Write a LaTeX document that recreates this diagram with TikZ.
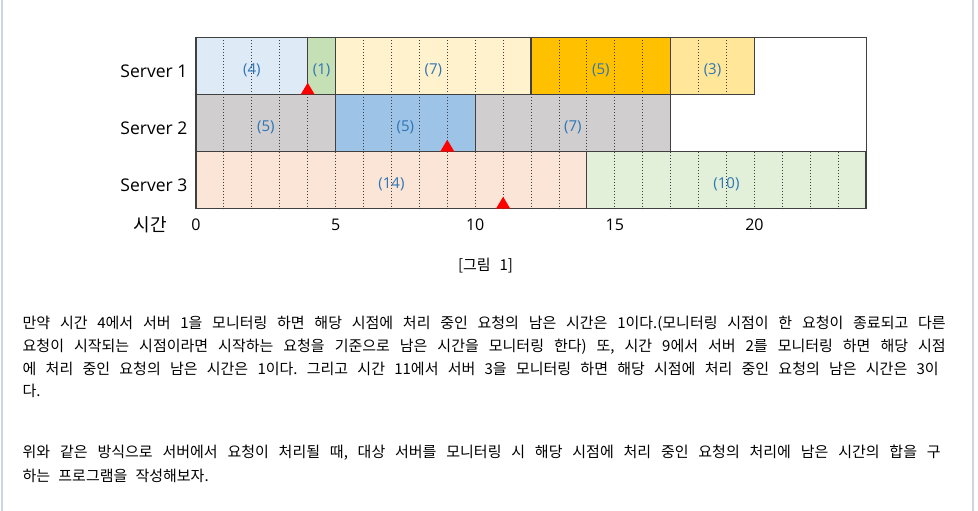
\documentclass[tikz,border=0pt]{standalone}
\usepackage{fontspec}
\setmainfont{Open Sans}
\newfontfamily\kr{Noto Sans CJK KR}
\frenchspacing
\definecolor{barcol}{HTML}{CBD5E6}
\definecolor{cA}{HTML}{DEEBF7}
\definecolor{cB}{HTML}{C5E0B4}
\definecolor{cC}{HTML}{FFF2CC}
\definecolor{cD}{HTML}{FFC000}
\definecolor{cE}{HTML}{FFE699}
\definecolor{cG}{HTML}{D0CECE}
\definecolor{cH}{HTML}{9DC3E6}
\definecolor{cI}{HTML}{FBE5D6}
\definecolor{cJ}{HTML}{E2F0D9}
\definecolor{edgecol}{HTML}{404040}
\definecolor{labcol}{HTML}{2E75B6}
\tikzset{
  edge/.style={draw=edgecol, line width=1.2pt},
  dotline/.style={edgecol, line width=0.9pt, dash pattern=on 0.9pt off 2.1pt},
  lab/.style={inner sep=0pt, text=labcol, font=\fontsize{15}{18}\selectfont},
  srv/.style={inner sep=0pt, anchor=east, font=\fontsize{17.5}{20}\selectfont},
  ax/.style={inner sep=0pt, font=\fontsize{16}{19}\selectfont},
  body/.style={inner sep=0pt, anchor=west, font=\kr\fontsize{15}{18}\selectfont\frenchspacing},
  redmark/.style={fill=red}
}
\begin{document}
\begin{tikzpicture}[x=1pt,y=-1pt]
\useasboundingbox (0,0) rectangle (978,511);
\fill[white] (0,0) rectangle (978,511);
\fill[barcol] (0.7,0) rectangle (2.7,511);
\fill[barcol] (971.7,0) rectangle (974,511);
% blocks
\foreach \a/\b/\r/\c in {0/4/0/cA, 4/5/0/cB, 5/12/0/cC, 12/17/0/cD, 17/20/0/cE,
                          0/5/1/cG, 5/10/1/cH, 10/17/1/cG, 0/14/2/cI, 14/24/2/cJ}
  \fill[\c] ({196+27.92*\a},{37.5+57*\r}) rectangle ({196+27.92*\b},{37.5+57*(\r+1)});
% dotted interior lines
\foreach \a/\b/\r in {0/4/0, 5/12/0, 12/17/0, 17/20/0, 0/5/1, 5/10/1, 10/17/1, 0/14/2, 14/24/2} {
  \pgfmathtruncatemacro\s{\a+1}
  \pgfmathtruncatemacro\e{\b-1}
  \foreach \t in {\s,...,\e}
    \draw[dotline] ({196+27.92*\t},{37.5+57*\r}) -- ({196+27.92*\t},{37.5+57*(\r+1)});
}
% block borders
\foreach \a/\b/\r in {0/4/0, 4/5/0, 5/12/0, 12/17/0, 17/20/0, 0/5/1, 5/10/1, 10/17/1, 0/14/2, 14/24/2}
  \draw[edge] ({196+27.92*\a},{37.5+57*\r}) rectangle ({196+27.92*\b},{37.5+57*(\r+1)});
\draw[edge] (196,37.5) rectangle (866.1,208.5);
% monitoring marks
\foreach \t/\y in {4/94.5, 9/151.5, 11/208.5}
  \fill[redmark] ({196+27.92*\t-7},\y) -- ({196+27.92*\t+7},\y) -- ({196+27.92*\t},{\y-11.8}) -- cycle;
% block labels
\node[lab] (l1) at ({196+27.92*2},70.7) {(4)};
\node[lab] (l2) at ({196+27.92*4.5},70.7) {(1)};
\node[lab] (l3) at ({196+27.92*8.5},70.7) {(7)};
\node[lab] (l4) at ({196+27.92*14.5},70.7) {(5)};
\node[lab] (l5) at ({196+27.92*18.5},70.7) {(3)};
\node[lab] (l6) at ({196+27.92*2.5},127.5) {(5)};
\node[lab] (l7) at ({196+27.92*7.5},127.5) {(5)};
\node[lab] (l8) at ({196+27.92*13.5},127.5) {(7)};
\node[lab] (l9) at ({196+27.92*7},184.5) {(14)};
\node[lab] (l10) at ({196+27.92*19},184.5) {(10)};
% row labels
\node[srv] (s1) at (187.5,71.7) {Server 1};
\node[srv] (s2) at (187.5,128.3) {Server 2};
\node[srv] (s3) at (187.5,185) {Server 3};
% axis
\node[inner sep=0pt, font=\kr\fontsize{18}{21}\selectfont] (tl) at (150.5,225) {시간};
\foreach \t in {0,5,10,15,20}
  \node[ax] (a\t) at ({196+27.92*\t},225) {\t};
% caption
\node[inner sep=0pt, font=\kr\fontsize{15}{18}\selectfont] (cap) at (485.5,265.5) {\makebox[55pt][s]{[그림 1]}};
% body text
\node[body] (p1) at (22.5,324) {\makebox[923pt][s]{만약 시간 4에서 서버 1을 모니터링 하면 해당 시점에 처리 중인 요청의 남은 시간은 1이다.(모니터링 시점이 한 요청이 종료되고 다른}};
\node[body] (p2) at (22.5,347) {\makebox[923pt][s]{요청이 시작되는 시점이라면 시작하는 요청을 기준으로 남은 시간을 모니터링 한다) 또, 시간 9에서 서버 2를 모니터링 하면 해당 시점}};
\node[body] (p3) at (22.5,369) {\makebox[916pt][s]{에 처리 중인 요청의 남은 시간은 1이다. 그리고 시간 11에서 서버 3을 모니터링 하면 해당 시점에 처리 중인 요청의 남은 시간은 3이}};
\node[body] (p4) at (22.5,391) {다.};
\node[body] (q1) at (22.5,453) {\makebox[918pt][s]{위와 같은 방식으로 서버에서 요청이 처리될 때, 대상 서버를 모니터링 시 해당 시점에 처리 중인 요청의 처리에 남은 시간의 합을 구}};
\node[body] (q2) at (22.5,476) {\makebox[186pt][s]{하는 프로그램을 작성해보자.}};
\end{tikzpicture}
\end{document}
